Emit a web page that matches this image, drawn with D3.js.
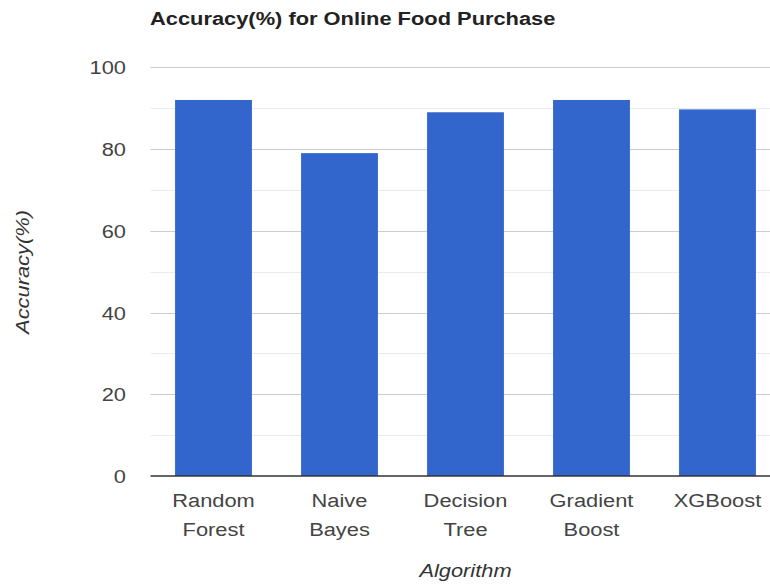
<!DOCTYPE html>
<html>
<head>
<meta charset="utf-8">
<script src="https://cdn.jsdelivr.net/npm/d3@7"></script>
<style>
  html, body { margin: 0; padding: 0; background: #fff; }
  svg { display: block; }
  text { font-family: Arial, "Liberation Sans", sans-serif; }
</style>
</head>
<body>
<div id="chart"></div>
<script>
// Accuracy of each algorithm on the online food purchase data
const algorithms = ["Random Forest", "Naive Bayes", "Decision Tree", "Gradient Boost", "XGBoost"];
const accuracy = [92, 79, 89, 92, 89.7];
const yTicks = [0, 20, 40, 60, 80, 100];
const yMinorTicks = [10, 30, 50, 70, 90];

const chartTitle = "Accuracy(%) for Online Food Purchase";
const xTitle = "Algorithm";
const yTitle = "Accuracy(%)";

const W = 770, H = 588;
const plot = { left: 150.5, right: 780.5, top: 67.3, bottom: 476 };
const stretch = 1.15; // labels are drawn slightly wide

const svg = d3.select("#chart").append("svg")
  .attr("width", W).attr("height", H);

const x = d3.scaleBand()
  .domain(algorithms)
  .range([plot.left, plot.right])
  .paddingInner(0.39)
  .paddingOuter(0.195);

const y = d3.scaleLinear()
  .domain([0, 100])
  .range([plot.bottom, plot.top]);

// helper: text placed at (px,py), optionally rotated, widened along its run
function label(g, str, px, py, opts) {
  const o = Object.assign({ size: 19, anchor: "middle", color: "#444", weight: "normal", style: "normal", rotate: 0 }, opts);
  return g.append("text")
    .attr("transform", `translate(${px},${py}) rotate(${o.rotate}) scale(${stretch},1)`)
    .attr("text-anchor", o.anchor)
    .attr("font-size", o.size)
    .attr("font-weight", o.weight)
    .attr("font-style", o.style)
    .attr("fill", o.color)
    .text(str);
}

// minor gridlines
svg.append("g").selectAll("line").data(yMinorTicks).join("line")
  .attr("x1", plot.left).attr("x2", W)
  .attr("y1", d => Math.round(y(d)) + 0.5).attr("y2", d => Math.round(y(d)) + 0.5)
  .attr("stroke", "#ebebeb").attr("stroke-width", 1);

// major gridlines
svg.append("g").selectAll("line").data(yTicks.filter(d => d !== 0)).join("line")
  .attr("x1", plot.left).attr("x2", W)
  .attr("y1", d => Math.round(y(d)) + 0.5).attr("y2", d => Math.round(y(d)) + 0.5)
  .attr("stroke", "#cccccc").attr("stroke-width", 1);

// bars
svg.append("g").selectAll("rect").data(algorithms).join("rect")
  .attr("x", d => x(d))
  .attr("width", x.bandwidth())
  .attr("y", (d, i) => y(accuracy[i]))
  .attr("height", (d, i) => y(0) - y(accuracy[i]))
  .attr("fill", "#3366cc");

// baseline
svg.append("line")
  .attr("x1", plot.left).attr("x2", W)
  .attr("y1", y(0)).attr("y2", y(0))
  .attr("stroke", "#333333").attr("stroke-width", 1.5);

// y tick labels
const yAxisG = svg.append("g");
yTicks.forEach(t => {
  label(yAxisG, String(t), 126, y(t) + 7, { anchor: "end" });
});

// x category labels, two lines each
const xAxisG = svg.append("g");
algorithms.forEach(a => {
  const cx = x(a) + x.bandwidth() / 2;
  const words = a.split(" ");
  words.forEach((w, k) => label(xAxisG, w, cx, 507 + k * 29));
});

// titles
label(svg, chartTitle, 150, 25, { anchor: "start", weight: "bold", color: "#222", size: 19 });
label(svg, xTitle, 465.5, 577, { style: "italic", color: "#333" });
label(svg, yTitle, 29, 272, { style: "italic", color: "#333", rotate: -90 });
</script>
</body>
</html>
